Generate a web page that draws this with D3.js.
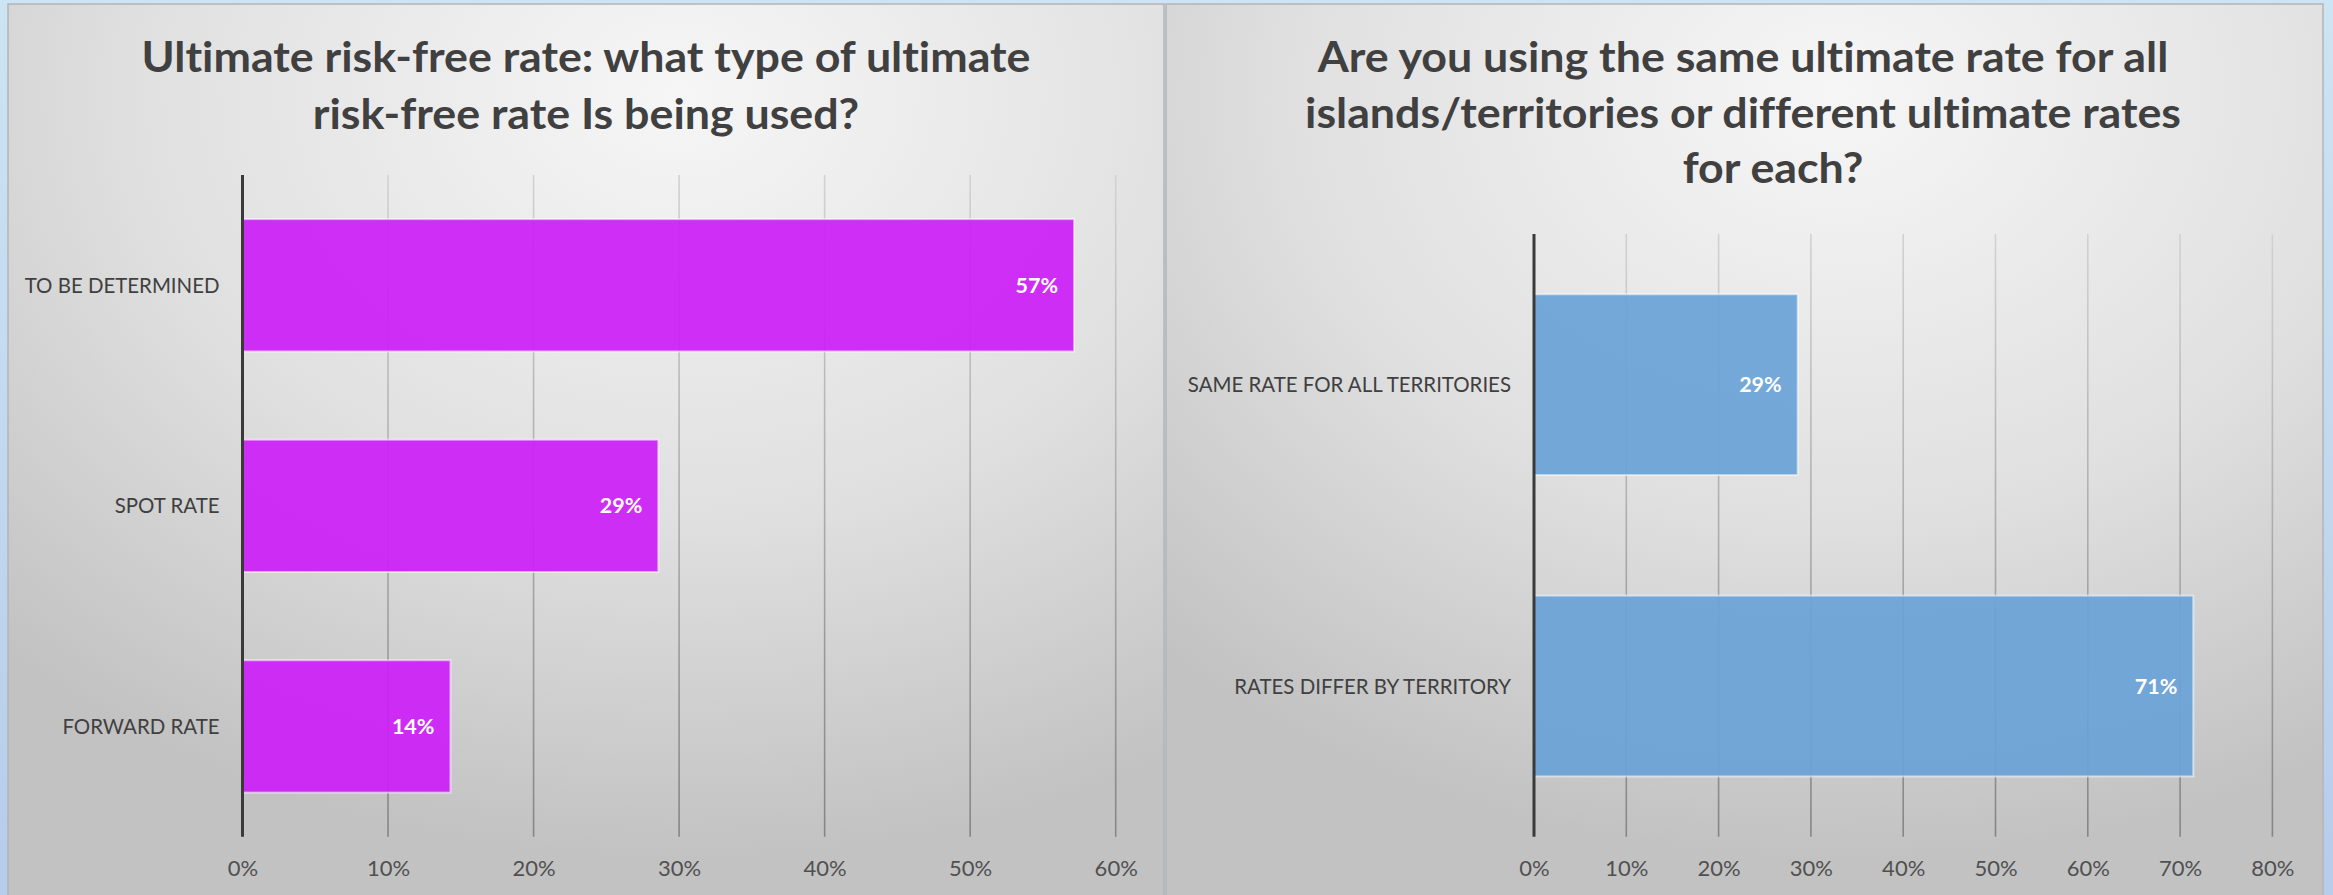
<!DOCTYPE html>
<html>
<head>
<meta charset="utf-8">
<script src="https://cdn.jsdelivr.net/npm/d3@7/dist/d3.min.js"></script>
<style>
  html, body { margin: 0; padding: 0; background: #c8e1f2; }
  svg { display: block; }
  text { font-variant-ligatures: none; }
</style>
</head>
<body>
<svg id="chart" width="2333" height="895"></svg>
<script>
// Survey results: ultimate risk-free rate usage
const leftTitle = ["Ultimate risk-free rate: what type of ultimate", "risk-free rate Is being used?"];
const leftCategories = ["TO BE DETERMINED", "SPOT RATE", "FORWARD RATE"];
const leftValues = [0.5714, 0.2857, 0.1429];
const leftTicks = [0, 0.1, 0.2, 0.3, 0.4, 0.5, 0.6];

const rightTitle = ["Are you using the same ultimate rate for all", "islands/territories or different ultimate rates", "for each?"];
const rightCategories = ["SAME RATE FOR ALL TERRITORIES", "RATES DIFFER BY TERRITORY"];
const rightValues = [0.2857, 0.7143];
const rightTicks = [0, 0.1, 0.2, 0.3, 0.4, 0.5, 0.6, 0.7, 0.8];

const FONT = "Lato, 'Open Sans', sans-serif";
const pct = d3.format(".0%");

const svg = d3.select("#chart");
const defs = svg.append("defs");

// stretch or squeeze a text run horizontally while keeping its height
function widthFactor(sel, k) {
  sel.each(function () {
    const len = this.getComputedTextLength();
    d3.select(this).attr("textLength", len * k).attr("lengthAdjust", "spacingAndGlyphs");
  });
}

// page backdrop
const pageGrad = defs.append("linearGradient").attr("id", "pageGrad")
  .attr("x1", 0).attr("y1", 0).attr("x2", 0).attr("y2", 1);
pageGrad.append("stop").attr("offset", 0).attr("stop-color", "#cde4f4");
pageGrad.append("stop").attr("offset", 1).attr("stop-color", "#b6cdeb");
svg.append("rect").attr("width", 2333).attr("height", 895).attr("fill", "url(#pageGrad)");

// soft radial fill for each chart area
const panelGrad = defs.append("radialGradient").attr("id", "panelGrad")
  .attr("cx", 0.58).attr("cy", 0.1).attr("r", 0.85).attr("fx", 0.58).attr("fy", 0.1);
panelGrad.append("stop").attr("offset", 0).attr("stop-color", "#f6f6f6");
panelGrad.append("stop").attr("offset", 0.55).attr("stop-color", "#e0e0e0");
panelGrad.append("stop").attr("offset", 1).attr("stop-color", "#c2c2c2");

function drawPanel(cfg) {
  const g = svg.append("g");

  g.append("rect")
    .attr("x", cfg.panel[0]).attr("y", cfg.panel[1])
    .attr("width", cfg.panel[2]).attr("height", cfg.panel[3])
    .attr("fill", "url(#panelGrad)")
    .attr("stroke", "#b4b4b4").attr("stroke-width", 1.5);

  // title, one text element per line
  g.append("g").selectAll("text").data(cfg.title).join("text")
    .attr("font-family", FONT).attr("font-weight", 700)
    .attr("font-size", cfg.titleSize).attr("fill", "#404040")
    .attr("text-anchor", "middle")
    .attr("x", (d, i) => cfg.titleX + (cfg.titleShift ? cfg.titleShift[i] : 0))
    .attr("y", (d, i) => cfg.titleY + i * cfg.titleLead)
    .text(d => d)
    .call(widthFactor, 1.065);

  const x = d3.scaleLinear().domain(cfg.domain).range([cfg.left, cfg.right]);
  const y = d3.scaleBand().domain(cfg.categories).range([cfg.top, cfg.bottom])
    .paddingInner(0.4).paddingOuter(0.2);

  // gridline shading, lighter at the top
  const gid = "grid" + cfg.id;
  const gg = defs.append("linearGradient").attr("id", gid)
    .attr("gradientUnits", "userSpaceOnUse")
    .attr("x1", 0).attr("y1", cfg.top).attr("x2", 0).attr("y2", cfg.bottom);
  gg.append("stop").attr("offset", 0).attr("stop-color", "#d2d2d2");
  gg.append("stop").attr("offset", 1).attr("stop-color", "#858585");

  g.append("g").selectAll("line").data(cfg.ticks.slice(1)).join("line")
    .attr("x1", d => x(d)).attr("x2", d => x(d))
    .attr("y1", cfg.top).attr("y2", cfg.bottom)
    .attr("stroke", `url(#${gid})`).attr("stroke-width", 1.6);

  // bars
  g.append("g").selectAll("rect").data(cfg.values).join("rect")
    .attr("x", x(0))
    .attr("y", (d, i) => y(cfg.categories[i]))
    .attr("width", d => x(d) - x(0))
    .attr("height", y.bandwidth())
    .attr("fill", cfg.color).attr("fill-opacity", 0.93)
    .attr("stroke", "#ffffff").attr("stroke-opacity", 0.55).attr("stroke-width", 2);

  // value labels inside the bar ends
  g.append("g").selectAll("text").data(cfg.values).join("text")
    .attr("x", d => x(d) - 16)
    .attr("y", (d, i) => y(cfg.categories[i]) + y.bandwidth() / 2)
    .attr("dy", "0.35em")
    .attr("text-anchor", "end")
    .attr("font-family", FONT).attr("font-weight", 700)
    .attr("font-size", 21.5).attr("fill", "#ffffff")
    .text(d => pct(d));

  // category labels
  const yAxis = d3.axisLeft(y).tickSize(0).tickPadding(23);
  const ya = g.append("g").attr("transform", `translate(${x(0)},0)`).call(yAxis);
  ya.select(".domain").remove();
  ya.selectAll("text")
    .attr("font-family", FONT).attr("font-size", 21.5).attr("fill", "#404040")
    .attr("dy", "0.35em")
    .call(widthFactor, 0.95);

  // vertical category axis line
  g.append("line")
    .attr("x1", x(0)).attr("x2", x(0)).attr("y1", cfg.top).attr("y2", cfg.bottom)
    .attr("stroke", "#3a3a3a").attr("stroke-width", 3);

  // value axis labels
  const xAxis = d3.axisBottom(x).tickValues(cfg.ticks).tickFormat(pct).tickSize(0).tickPadding(0);
  const xa = g.append("g").attr("transform", `translate(0,${cfg.tickY})`).call(xAxis);
  xa.select(".domain").remove();
  xa.selectAll("text")
    .attr("font-family", FONT).attr("font-size", 22).attr("fill", "#505050")
    .attr("dy", "0.35em");
}

drawPanel({
  id: "L",
  panel: [8, 4, 1156, 900],
  title: leftTitle, titleSize: 42, titleX: 586, titleY: 72, titleLead: 56.5,
  categories: leftCategories, values: leftValues, ticks: leftTicks,
  domain: [0, 0.6], left: 242.5, right: 1115.7, top: 175, bottom: 836.7,
  tickY: 868.5, color: "#cc1ff8"
});

drawPanel({
  id: "R",
  panel: [1166, 4, 1157, 900],
  title: rightTitle, titleSize: 42, titleX: 1743, titleShift: [0, 0, 30], titleY: 72, titleLead: 55.5,
  categories: rightCategories, values: rightValues, ticks: rightTicks,
  domain: [0, 0.8], left: 1534, right: 2272.4, top: 234, bottom: 836.7,
  tickY: 868.5, color: "#6aa2d6"
});
</script>
</body>
</html>
